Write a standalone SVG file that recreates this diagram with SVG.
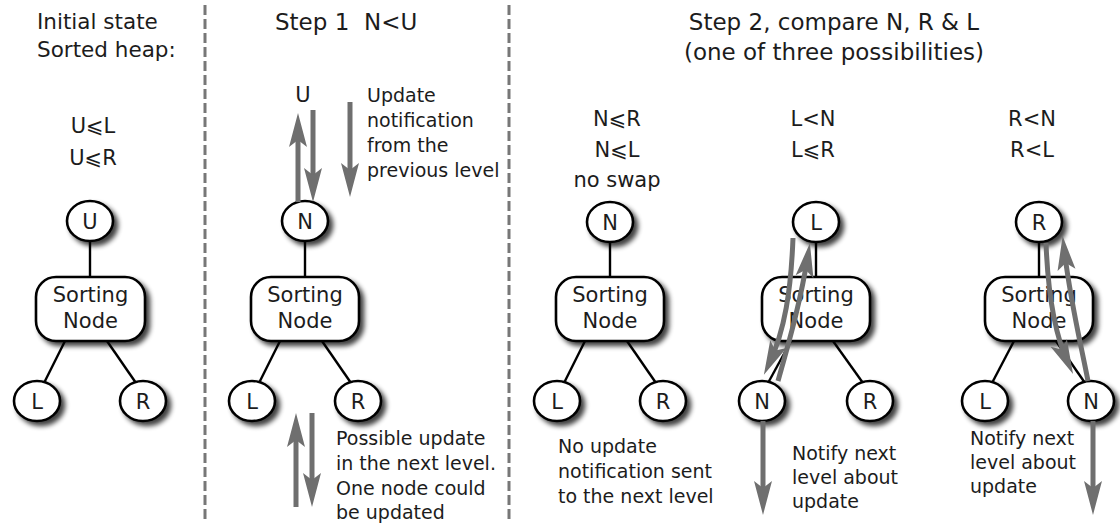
<svg xmlns="http://www.w3.org/2000/svg" width="1120" height="523" viewBox="0 0 1120 523">
  <defs>
    <style>
      text { font-family: "DejaVu Sans", "Liberation Sans", sans-serif; fill: #1c1c1c; }
      .title { font-size: 21.5px; }
      .step { font-size: 23px; }
      .rel { font-size: 21px; text-anchor: middle; }
      .lbl { font-size: 21px; text-anchor: middle; }
      .note { font-size: 19px; }
      .shape { fill: #ffffff; stroke: #000000; stroke-width: 2.6; filter: url(#shadow); }
      .link { stroke: #000000; stroke-width: 2.4; fill: none; }
      .divider { stroke: #777777; stroke-width: 3; stroke-dasharray: 10 4; fill: none; }
      .arrow { stroke: #6f6f6f; stroke-width: 5; fill: none; marker-end: url(#head); }
    </style>
    <filter id="shadow" x="-30%" y="-30%" width="170%" height="170%">
      <feGaussianBlur in="SourceAlpha" stdDeviation="2.8"/>
      <feOffset dx="3.5" dy="3.5" result="blur"/>
      <feComponentTransfer>
        <feFuncA type="linear" slope="0.75"/>
      </feComponentTransfer>
      <feMerge>
        <feMergeNode/>
        <feMergeNode in="SourceGraphic"/>
      </feMerge>
    </filter>
    <marker id="head" markerUnits="userSpaceOnUse" viewBox="0 -10 36 20" markerWidth="36" markerHeight="20" refX="22" refY="0" orient="auto">
      <path d="M34,0 L0,-9 L7,0 L0,9 Z" fill="#6f6f6f"/>
    </marker>
  </defs>

  <!-- panel separators -->
  <g id="dividers">
    <line class="divider" x1="205" y1="5" x2="205" y2="523"/>
    <line class="divider" x1="509" y1="5" x2="509" y2="523"/>
  </g>

  <!-- headings and relations -->
  <g id="captions">
    <text class="title" x="37" y="29">Initial state</text>
    <text class="title" x="37" y="57">Sorted heap:</text>
    <text class="rel" x="93" y="133">U⩽L</text>
    <text class="rel" x="93" y="165">U⩽R</text>

    <text class="step" x="275" y="30" style="white-space:pre">Step 1  N&lt;U</text>
    <text class="lbl" x="303" y="102">U</text>
    <text class="note" x="367" y="102">Update</text>
    <text class="note" x="367" y="127">notification</text>
    <text class="note" x="367" y="152">from the</text>
    <text class="note" x="367" y="177">previous level</text>
    <text class="note" x="336" y="445">Possible update</text>
    <text class="note" x="336" y="470">in the next level.</text>
    <text class="note" x="336" y="495">One node could</text>
    <text class="note" x="336" y="519">be updated</text>

    <text class="step" x="834" y="30" text-anchor="middle">Step 2, compare N, R &amp; L</text>
    <text class="step" x="834" y="60" text-anchor="middle">(one of three possibilities)</text>

    <text class="rel" x="617" y="126">N⩽R</text>
    <text class="rel" x="617" y="157">N⩽L</text>
    <text class="rel" x="617" y="187">no swap</text>
    <text class="note" x="558" y="453">No update</text>
    <text class="note" x="558" y="478">notification sent</text>
    <text class="note" x="558" y="503">to the next level</text>

    <text class="rel" x="813" y="126">L&lt;N</text>
    <text class="rel" x="813" y="157">L⩽R</text>
    <text class="note" x="792" y="460">Notify next</text>
    <text class="note" x="792" y="484">level about</text>
    <text class="note" x="792" y="508">update</text>

    <text class="rel" x="1032" y="126">R&lt;N</text>
    <text class="rel" x="1032" y="157">R&lt;L</text>
    <text class="note" x="970" y="445">Notify next</text>
    <text class="note" x="970" y="469">level about</text>
    <text class="note" x="970" y="493">update</text>
  </g>

  <!-- tree edges -->
  <g id="links">
    <line class="link" x1="90" y1="241" x2="90" y2="277"/>
    <line class="link" x1="65" y1="341" x2="44" y2="383"/>
    <line class="link" x1="107" y1="341" x2="136" y2="383"/>

    <line class="link" x1="305" y1="241" x2="305" y2="277"/>
    <line class="link" x1="280" y1="341" x2="259" y2="383"/>
    <line class="link" x1="322" y1="341" x2="351" y2="383"/>

    <line class="link" x1="610" y1="242" x2="610" y2="277"/>
    <line class="link" x1="585" y1="341" x2="564" y2="383"/>
    <line class="link" x1="627" y1="341" x2="656" y2="383"/>

    <line class="link" x1="816" y1="242" x2="816" y2="277"/>
    <line class="link" x1="791" y1="341" x2="768" y2="383"/>
    <line class="link" x1="833" y1="341" x2="863" y2="383"/>

    <line class="link" x1="1039" y1="242" x2="1039" y2="277"/>
    <line class="link" x1="1014" y1="341" x2="992" y2="383"/>
    <line class="link" x1="1056" y1="341" x2="1085" y2="383"/>
  </g>

  <!-- initial state tree -->
  <g id="init-u"><ellipse class="shape" cx="90" cy="221" rx="23" ry="20"/><text class="lbl" x="90" y="229">U</text></g>
  <g id="init-sort"><rect class="shape" x="36" y="277" width="109" height="64" rx="20"/><text class="lbl" x="90.5" y="302">Sorting</text><text class="lbl" x="90.5" y="328">Node</text></g>
  <g id="init-l"><ellipse class="shape" cx="37" cy="401" rx="23" ry="20"/><text class="lbl" x="37" y="409">L</text></g>
  <g id="init-r"><ellipse class="shape" cx="143" cy="401" rx="23" ry="20"/><text class="lbl" x="143" y="409">R</text></g>

  <!-- step 1 tree -->
  <g id="s1-n"><ellipse class="shape" cx="305" cy="221" rx="23" ry="20"/><text class="lbl" x="305" y="229">N</text></g>
  <g id="s1-sort"><rect class="shape" x="251" y="277" width="108" height="64" rx="20"/><text class="lbl" x="305" y="302">Sorting</text><text class="lbl" x="305" y="328">Node</text></g>
  <g id="s1-l"><ellipse class="shape" cx="252" cy="401" rx="23" ry="20"/><text class="lbl" x="252" y="409">L</text></g>
  <g id="s1-r"><ellipse class="shape" cx="358" cy="401" rx="23" ry="20"/><text class="lbl" x="358" y="409">R</text></g>

  <!-- step 2, no swap -->
  <g id="s2a-n"><ellipse class="shape" cx="610" cy="222" rx="23" ry="20"/><text class="lbl" x="610" y="230">N</text></g>
  <g id="s2a-sort"><rect class="shape" x="556" y="277" width="108" height="64" rx="20"/><text class="lbl" x="610" y="302">Sorting</text><text class="lbl" x="610" y="328">Node</text></g>
  <g id="s2a-l"><ellipse class="shape" cx="557" cy="401" rx="23" ry="20"/><text class="lbl" x="557" y="409">L</text></g>
  <g id="s2a-r"><ellipse class="shape" cx="663" cy="401" rx="23" ry="20"/><text class="lbl" x="663" y="409">R</text></g>

  <!-- step 2, swap with left -->
  <g id="s2b-l"><ellipse class="shape" cx="816" cy="222" rx="23" ry="20"/><text class="lbl" x="816" y="230">L</text></g>
  <g id="s2b-sort"><rect class="shape" x="762" y="277" width="108" height="64" rx="20"/><text class="lbl" x="816" y="302">Sorting</text><text class="lbl" x="816" y="328">Node</text></g>
  <g id="s2b-n"><ellipse class="shape" cx="762" cy="401" rx="23" ry="20"/><text class="lbl" x="762" y="409">N</text></g>
  <g id="s2b-r"><ellipse class="shape" cx="870" cy="401" rx="23" ry="20"/><text class="lbl" x="870" y="409">R</text></g>

  <!-- step 2, swap with right -->
  <g id="s2c-r"><ellipse class="shape" cx="1039" cy="222" rx="23" ry="20"/><text class="lbl" x="1039" y="230">R</text></g>
  <g id="s2c-sort"><rect class="shape" x="985" y="277" width="108" height="64" rx="20"/><text class="lbl" x="1039" y="302">Sorting</text><text class="lbl" x="1039" y="328">Node</text></g>
  <g id="s2c-l"><ellipse class="shape" cx="985" cy="401" rx="23" ry="20"/><text class="lbl" x="985" y="409">L</text></g>
  <g id="s2c-n"><ellipse class="shape" cx="1091" cy="401" rx="23" ry="20"/><text class="lbl" x="1091" y="409">N</text></g>

  <!-- update notifications and swaps -->
  <g id="arrows">
    <path class="arrow" d="M298,202 L298,125"/>
    <path class="arrow" d="M313,110 L313,190"/>
    <path class="arrow" d="M350,102 L350,185"/>
    <path class="arrow" d="M296,507 L296,425"/>
    <path class="arrow" d="M312,413 L312,495"/>

    <path class="arrow" d="M793,238 C791,290 785,330 769,364"/>
    <path class="arrow" d="M778,381 C788,345 800,305 808,255"/>
    <path class="arrow" d="M763,421 L763,503"/>

    <path class="arrow" d="M1046,243 C1048,295 1055,335 1068,363"/>
    <path class="arrow" d="M1088,381 C1080,340 1070,300 1064,248"/>
    <path class="arrow" d="M1093,421 L1093,503"/>
  </g>
</svg>
